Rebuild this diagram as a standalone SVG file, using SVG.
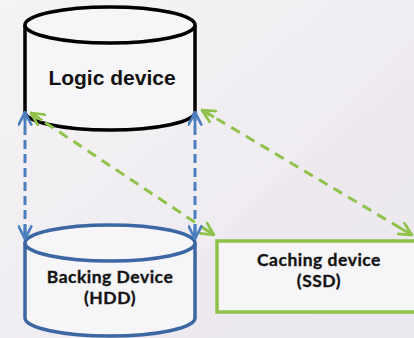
<svg xmlns="http://www.w3.org/2000/svg" width="414" height="338" viewBox="0 0 414 338">
  <defs>
    <linearGradient id="bg" x1="0" y1="0" x2="1" y2="1">
      <stop offset="0" stop-color="#f5f3f5"/>
      <stop offset="1" stop-color="#ece8ef"/>
    </linearGradient>
    <marker id="headBlue" viewBox="0 0 12 12" refX="11" refY="6" markerWidth="15" markerHeight="15" markerUnits="userSpaceOnUse" orient="auto-start-reverse">
      <path d="M1,1 L11,6 L1,11 M0,6 L11,6" fill="none" stroke="#4a7ebf" stroke-width="2.2" stroke-linecap="round" stroke-linejoin="round"/>
    </marker>
    <marker id="headGreen" viewBox="0 0 12 12" refX="11" refY="6" markerWidth="15" markerHeight="15" markerUnits="userSpaceOnUse" orient="auto-start-reverse">
      <path d="M1,1 L11,6 L1,11 M0,6 L11,6" fill="none" stroke="#8fc24a" stroke-width="2.2" stroke-linecap="round" stroke-linejoin="round"/>
    </marker>
  </defs>
  <style>
    .label { font-family: "Liberation Sans", Arial, sans-serif; font-weight: bold; fill: #111; text-anchor: middle; }
    .label2 { font-family: Lato, "Liberation Sans", sans-serif; font-weight: bold; font-size: 17.5px; letter-spacing: 0.5px; fill: #111; stroke: #222; stroke-width: 0.35; text-anchor: middle; }
    .blue { fill: none; stroke: #4a7ebf; stroke-width: 3; stroke-dasharray: 9 5; }
    .green { fill: none; stroke: #8fc24a; stroke-width: 3; stroke-dasharray: 10 7; }
  </style>

  <!-- background -->
  <rect width="414" height="338" fill="url(#bg)"/>
  <polygon points="414,40 414,338 120,338" fill="#ebe7ee" opacity="0.6"/>

  <!-- Logic device cylinder -->
  <g id="logic-device">
    <path d="M25,25 L25,112 A85,18 0 0 0 195,112 L195,25" fill="#f6f5f7" stroke="#000" stroke-width="3.5"/>
    <ellipse cx="110" cy="25" rx="85" ry="18" fill="#f6f5f7" stroke="#000" stroke-width="3.5"/>
    <text class="label" x="112" y="85" font-size="21">Logic device</text>
  </g>

  <!-- Backing device cylinder -->
  <g id="backing-device">
    <path d="M25,243 L25,318 A85,18 0 0 0 195,318 L195,243" fill="#f6f5f7" stroke="#3b67a3" stroke-width="3.5"/>
    <ellipse cx="110" cy="243" rx="85" ry="18" fill="#f6f5f7" stroke="#3b67a3" stroke-width="3.5"/>
    <text class="label2" x="110" y="283">Backing Device</text>
    <text class="label2" x="110" y="304">(HDD)</text>
  </g>

  <!-- Caching device box -->
  <g id="caching-device">
    <rect x="217" y="241" width="204" height="71" fill="#f6f5f7" stroke="#8fc24a" stroke-width="3.5"/>
    <text class="label2" x="319" y="266">Caching device</text>
    <text class="label2" x="319" y="287">(SSD)</text>
  </g>

  <!-- connectors -->
  <g id="connectors">
    <path class="green" d="M31,113 L214,235" marker-start="url(#headGreen)" marker-end="url(#headGreen)"/>
    <path class="green" d="M202,110 L412,235" marker-start="url(#headGreen)" marker-end="url(#headGreen)"/>
    <path class="blue" d="M25,112 L25,239" marker-start="url(#headBlue)" marker-end="url(#headBlue)"/>
    <path class="blue" d="M195,112 L195,239" marker-start="url(#headBlue)" marker-end="url(#headBlue)"/>
  </g>
</svg>
